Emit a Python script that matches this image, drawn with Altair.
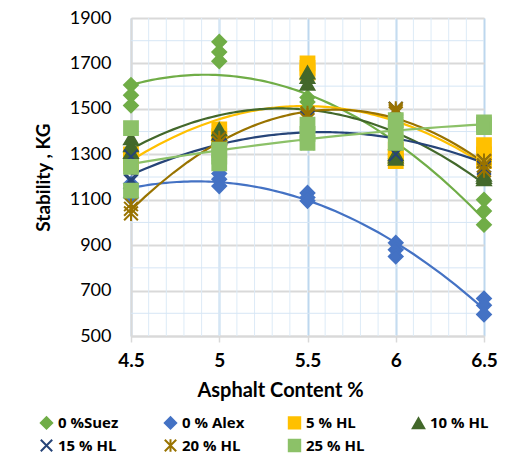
import altair as alt
import pandas as pd

# ---- data ----
x_levels = [4.5, 5.0, 5.5, 6.0, 6.5]
series_names = ["0 %Suez", "0 % Alex", "5 % HL", "10 % HL", "15 % HL", "20 % HL", "25 % HL"]
series_colors = ["#70AD47", "#4472C4", "#FFC000", "#43682B", "#264478", "#997300", "#8CC168"]
X_PATH = "M-1,-1L1,1M-1,1L1,-1"
STAR_PATH = "M-1,-1L1,1M-1,1L1,-1M0,-1.1L0,1.1"
series_shapes = ["diamond", "diamond", "square", "triangle-up", X_PATH, STAR_PATH, "square"]

# three replicate readings at each asphalt content (4.5, 5, 5.5, 6, 6.5)
suez = [1605, 1560, 1515, 1795, 1750, 1710, 1550, 1530, 1500, 1320, 1300, 1280, 1100, 1050, 990]
alex = [1170, 1150, 1110, 1215, 1190, 1160, 1130, 1110, 1095, 910, 880, 850, 665, 635, 595]
hl5 = [1300, 1280, 1260, 1410, 1380, 1360, 1700, 1680, 1660, 1320, 1290, 1270, 1340, 1300, 1270]
hl10 = [1370, 1340, 1310, 1410, 1390, 1370, 1660, 1640, 1610, 1300, 1290, 1280, 1210, 1200, 1190]
hl15 = [1290, 1190, 1180, 1340, 1320, 1300, 1460, 1400, 1350, 1500, 1350, 1300, 1270, 1250, 1240]
hl20 = [1080, 1060, 1040, 1370, 1350, 1330, 1480, 1470, 1450, 1500, 1490, 1480, 1270, 1250, 1230]
hl25 = [1415, 1245, 1140, 1320, 1290, 1260, 1430, 1390, 1350, 1450, 1400, 1350, 1440, 1430, 1420]

y_ticks = [500, 700, 900, 1100, 1300, 1500, 1700, 1900]

all_series = [suez, alex, hl5, hl10, hl15, hl20, hl25]
rows = []
for name, vals in zip(series_names, all_series):
    for i, v in enumerate(vals):
        rows.append({"series": name, "x": x_levels[i // 3], "y": v})
df = pd.DataFrame(rows)

FONT = "Lato"
LFONT = "Open Sans"
xscale = alt.Scale(domain=[4.5, 6.5], nice=False, zero=False)
yscale = alt.Scale(domain=[500, 1900], nice=False, zero=False)
cscale = alt.Scale(domain=series_names, range=series_colors)
sscale = alt.Scale(domain=series_names, range=series_shapes)

x_axis = alt.Axis(values=x_levels, format="~g", title="Asphalt Content %",
                  labelFont=FONT, labelFontSize=19, labelFontWeight="bold", labelColor="#000000",
                  labelPadding=9, labelFlush=False, tickSize=6, tickColor="#D9D9D9", tickWidth=1.5,
                  domainColor="#D9D9D9", domainWidth=2, gridColor="#BDD7EE", gridWidth=2,
                  titleFont=FONT, titleFontSize=20, titleFontWeight="bold", titleColor="#000000",
                  titlePadding=10, titleX=149, titleAlign="center")
y_axis = alt.Axis(values=y_ticks, format="d", title="Stability , KG", ticks=False,
                  labelFont=FONT, labelFontSize=18, labelColor="#000000", labelPadding=20,
                  domainColor="#D9D9D9", domainWidth=2, gridColor="#D9D9D9", gridWidth=2,
                  titleFont=FONT, titleFontSize=19, titleFontWeight="bold", titleColor="#000000",
                  titlePadding=16)

legend = alt.Legend(title=None, orient="none", legendX=-92, legendY=397, columns=4,
                    direction="horizontal",
                    labelFont=LFONT, labelFontSize=15, labelFontWeight="bold", labelColor="#000000",
                    symbolSize=130, symbolStrokeWidth=2, labelOffset=4, rowPadding=2,
                    columnPadding=39, gridAlign="all")

minor_v = alt.Chart(alt.sequence(4.6, 6.45, 0.1, as_="g")).mark_rule(
    color="#DDEBF7", strokeWidth=1).encode(x=alt.X("g:Q", scale=xscale, axis=x_axis))
minor_h = alt.Chart(alt.sequence(600, 1850, 200, as_="g")).mark_rule(
    color="#D6E6F5", strokeWidth=1).encode(y=alt.Y("g:Q", scale=yscale, axis=y_axis))

lines = alt.Chart(df).transform_regression(
    "x", "y", groupby=["series"], method="poly", order=2, extent=[4.5, 6.5]
).mark_line(strokeWidth=2.2).encode(
    x=alt.X("x:Q", scale=xscale, axis=x_axis),
    y=alt.Y("y:Q", scale=yscale, axis=y_axis),
    color=alt.Color("series:N", scale=cscale, legend=legend, sort=series_names),
)

points = alt.Chart(df).mark_point(filled=True, size=190, strokeWidth=2, opacity=1).encode(
    x=alt.X("x:Q", scale=xscale, axis=x_axis),
    y=alt.Y("y:Q", scale=yscale, axis=y_axis),
    color=alt.Color("series:N", scale=cscale, legend=legend, sort=series_names),
    stroke=alt.Stroke("series:N", scale=cscale, legend=legend, sort=series_names),
    shape=alt.Shape("series:N", scale=sscale, legend=legend, sort=series_names),
)

chart = alt.layer(minor_v, minor_h, lines, points).properties(
    width=353, height=318,
    autosize=alt.AutoSizeParams(type="none"),
    padding={"left": 131, "top": 18, "right": 26, "bottom": 119},
).configure_view(stroke=None).configure(background="#FFFFFF")

chart.save("out.html", embed_options={"renderer": "svg", "actions": False})
